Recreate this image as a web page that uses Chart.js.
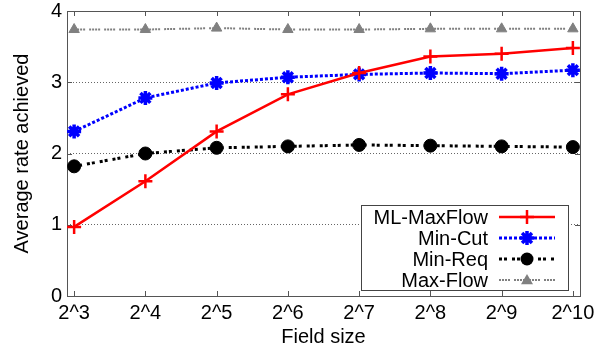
<!DOCTYPE html>
<html lang="en">
<head>
    <meta charset="UTF-8">
    <title>Average rate achieved</title>
    <script src="https://cdn.jsdelivr.net/npm/chart.js"></script>
    <style>
        html, body { margin: 0; padding: 0; background: #fff; }
        #wrap { width: 607px; height: 352px; }
    </style>
</head>
<body>
<div id="wrap"><canvas id="rateChart" width="607" height="352"></canvas></div>
<script>
    // data
    var fieldSizes = ['2^3', '2^4', '2^5', '2^6', '2^7', '2^8', '2^9', '2^10'];
    var mlMaxFlow = [0.97, 1.61, 2.31, 2.83, 3.13, 3.36, 3.40, 3.48];
    var minCut    = [2.31, 2.78, 2.99, 3.07, 3.11, 3.13, 3.12, 3.17];
    var minReq    = [1.82, 2.00, 2.08, 2.10, 2.12, 2.11, 2.10, 2.09];
    var maxFlow   = [3.74, 3.74, 3.76, 3.74, 3.74, 3.75, 3.75, 3.75];
    var yTicks    = [0, 1, 2, 3, 4];

    var FONT = "'Liberation Sans', Arial, sans-serif";

    function toPoints(arr) {
        return arr.map(function (v, i) { return { x: i, y: v }; });
    }

    // frame + inward tick marks on all four sides
    var frame = {
        id: 'frame',
        beforeDatasetsDraw: function (chart) {
            var c = chart.ctx, a = chart.chartArea;
            var xs = chart.scales.x, ys = chart.scales.y;
            c.save();
            c.strokeStyle = '#555';
            c.lineWidth = 1;
            c.strokeRect(Math.round(a.left) + 0.5, Math.round(a.top) + 0.5,
                Math.round(a.right - a.left), Math.round(a.bottom - a.top));
            c.beginPath();
            fieldSizes.forEach(function (_, i) {
                var px = Math.round(xs.getPixelForValue(i)) + 0.5;
                c.moveTo(px, a.bottom); c.lineTo(px, a.bottom - 5);
                c.moveTo(px, a.top); c.lineTo(px, a.top + 5);
            });
            yTicks.forEach(function (t) {
                var py = Math.round(ys.getPixelForValue(t)) + 0.5;
                c.moveTo(a.left, py); c.lineTo(a.left + 5, py);
                c.moveTo(a.right, py); c.lineTo(a.right - 5, py);
            });
            c.stroke();
            c.restore();
        }
    };

    function drawMarker(c, style, x, y, r) {
        c.beginPath();
        if (style === 'circle') {
            c.arc(x, y, r, 0, Math.PI * 2); c.fill();
        } else if (style === 'triangle') {
            c.moveTo(x, y - r); c.lineTo(x + r, y + r * 0.7); c.lineTo(x - r, y + r * 0.7);
            c.closePath(); c.fill();
        } else if (style === 'cross') {
            c.moveTo(x - r, y); c.lineTo(x + r, y);
            c.moveTo(x, y - r); c.lineTo(x, y + r);
            c.stroke();
        } else {
            // star: + and x
            var d = r * Math.SQRT1_2;
            c.moveTo(x - r, y); c.lineTo(x + r, y);
            c.moveTo(x, y - r); c.lineTo(x, y + r);
            c.moveTo(x - d, y - d); c.lineTo(x + d, y + d);
            c.moveTo(x - d, y + d); c.lineTo(x + d, y - d);
            c.stroke();
        }
    }

    // legend box, text right aligned, sample on the right
    var boxLegend = {
        id: 'boxLegend',
        afterDraw: function (chart) {
            var c = chart.ctx;
            var x0 = 361, y0 = 205, w = 207, h = 85;
            c.save();
            c.fillStyle = '#fff';
            c.fillRect(x0, y0, w, h);
            c.strokeStyle = '#444';
            c.lineWidth = 1;
            c.strokeRect(x0 + 0.5, y0 + 0.5, w, h);
            c.font = '20px ' + FONT;
            c.textAlign = 'right';
            c.textBaseline = 'middle';
            chart.data.datasets.forEach(function (ds, i) {
                var cy = y0 + 12 + i * 21;
                c.fillStyle = '#000';
                c.fillText(ds.label, 488, cy + 1);
                c.strokeStyle = ds.borderColor;
                c.lineWidth = ds.borderWidth;
                c.setLineDash(ds.borderDash || []);
                c.beginPath();
                c.moveTo(499, cy); c.lineTo(555, cy);
                c.stroke();
                c.setLineDash([]);
                c.fillStyle = ds.pointBackgroundColor;
                c.lineWidth = ds.pointBorderWidth;
                drawMarker(c, ds.pointStyle, 527, cy, ds.pointRadius);
            });
            c.restore();
        }
    };

    var ctx = document.getElementById('rateChart').getContext('2d');
    var rateChart = new Chart(ctx, {
        type: 'line',
        data: {
            datasets: [{
                label: 'ML-MaxFlow',
                data: toPoints(mlMaxFlow),
                borderColor: '#ff0000',
                backgroundColor: '#ff0000',
                pointBackgroundColor: '#ff0000',
                borderWidth: 2.5,
                pointStyle: 'cross',
                pointRadius: 7,
                pointBorderWidth: 2.5
            }, {
                label: 'Min-Cut',
                data: toPoints(minCut),
                borderColor: '#0000ff',
                backgroundColor: '#0000ff',
                pointBackgroundColor: '#0000ff',
                borderWidth: 3,
                borderDash: [3, 2],
                pointStyle: 'star',
                pointRadius: 7,
                pointBorderWidth: 3.5
            }, {
                label: 'Min-Req',
                data: toPoints(minReq),
                borderColor: '#000000',
                backgroundColor: '#000000',
                pointBackgroundColor: '#000000',
                borderWidth: 3,
                borderDash: [3, 2, 3, 5],
                pointStyle: 'circle',
                pointRadius: 6.5,
                pointBorderWidth: 1
            }, {
                label: 'Max-Flow',
                data: toPoints(maxFlow),
                borderColor: '#808080',
                backgroundColor: '#808080',
                pointBackgroundColor: '#808080',
                borderWidth: 2,
                borderDash: [2, 1, 2, 1, 2, 1, 2, 4],
                pointStyle: 'triangle',
                pointRadius: 6,
                pointBorderWidth: 1
            }]
        },
        options: {
            responsive: false,
            animation: false,
            layout: { padding: { left: 0, right: 27, top: 10, bottom: 0 } },
            plugins: {
                legend: { display: false },
                tooltip: { enabled: false }
            },
            scales: {
                x: {
                    type: 'linear',
                    min: -0.1,
                    max: 7.1,
                    afterFit: function (s) { s.height = 56; },
                    afterBuildTicks: function (s) {
                        s.ticks = fieldSizes.map(function (_, i) { return { value: i }; });
                    },
                    ticks: {
                        font: { family: FONT, size: 20 },
                        color: '#000',
                        padding: 5,
                        maxRotation: 0,
                        callback: function (v) { return fieldSizes[v]; }
                    },
                    grid: { display: false, drawTicks: false },
                    border: { display: false },
                    title: {
                        display: true,
                        text: 'Field size',
                        color: '#000',
                        font: { family: FONT, size: 20 },
                        padding: { top: 0, bottom: 3 }
                    }
                },
                y: {
                    min: 0,
                    max: 4,
                    afterFit: function (s) { s.width = 67; },
                    afterBuildTicks: function (s) {
                        s.ticks = yTicks.map(function (t) { return { value: t }; });
                    },
                    ticks: {
                        font: { family: FONT, size: 20, lineHeight: 0.6 },
                        color: '#000',
                        padding: 5
                    },
                    grid: {
                        drawTicks: false,
                        color: function (c) {
                            return (c.tick && c.tick.value > 0 && c.tick.value < 4) ? '#666' : 'rgba(0,0,0,0)';
                        },
                        lineWidth: 1
                    },
                    // in v4 the border dash also dashes the grid lines
                    border: { display: false, dash: [1, 2] },
                    title: {
                        display: true,
                        text: 'Average rate achieved',
                        color: '#000',
                        font: { family: FONT, size: 20 },
                        padding: { top: 10, bottom: 0 }
                    }
                }
            }
        },
        plugins: [frame, boxLegend]
    });
</script>
</body>
</html>
